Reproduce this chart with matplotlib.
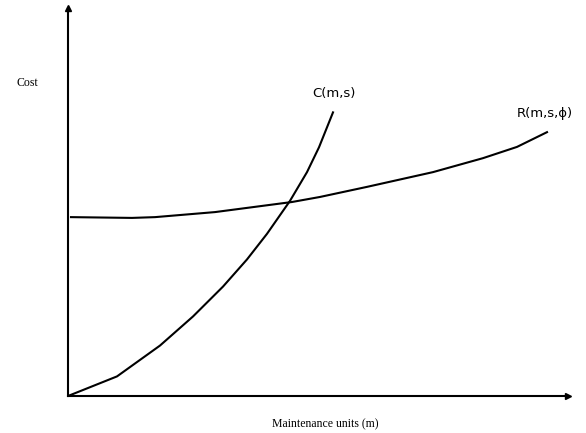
import matplotlib.pyplot as plt

# values (arbitrary units, 0-100 on both axes)
c_x = [0, 9.8, 18.4, 25, 31, 35.8, 39.8, 44.4, 47.8, 50.2, 53]
c_y = [0, 5.05, 13.0, 20.5, 28.2, 35.2, 41.8, 50.3, 57.7, 64.1, 73.1]
r_x = [0.6, 12.8, 17.4, 29.4, 44.8, 50.4, 59.8, 73, 83, 89.8, 95.8]
r_y = [46.1, 45.9, 46.1, 47.4, 50, 51.3, 53.9, 57.7, 61.3, 64.2, 68]

fig = plt.figure(figsize=(5.86, 4.33), dpi=100)
ax = fig.add_axes([68/586, 37/433, 500/586, 388/433])

ax.plot(c_x, c_y, color='black', lw=1.5, solid_joinstyle='round')
ax.plot(r_x, r_y, color='black', lw=1.5, solid_joinstyle='round')

ax.set_xlim(0, 100)
ax.set_ylim(0, 100)
ax.spines['top'].set_visible(False)
ax.spines['right'].set_visible(False)
ax.spines['left'].set_linewidth(1.5)
ax.spines['bottom'].set_linewidth(1.5)
ax.set_xticks([])
ax.set_yticks([])
# small arrow heads on the axes
ax.plot(1, 0, '>k', ms=4, transform=ax.get_yaxis_transform(), clip_on=False)
ax.plot(0, 1, '^k', ms=4, transform=ax.get_xaxis_transform(), clip_on=False)

ax.text(53.2, 78, 'C(m,s)', ha='center', va='center', fontsize=9.5, family='DejaVu Sans')
ax.text(95.4, 72.9, 'R(m,s,\u03d5)', ha='center', va='center', fontsize=9.5, family='DejaVu Sans')
ax.text(-8.2, 80.7, 'Cost', ha='center', va='center', fontsize=8.5, family='Liberation Serif', clip_on=False)
ax.text(51.4, -7.2, 'Maintenance units (m)', ha='center', va='center', fontsize=8.5,
        family='Liberation Serif', clip_on=False)

fig.savefig('out.png', dpi=100)
